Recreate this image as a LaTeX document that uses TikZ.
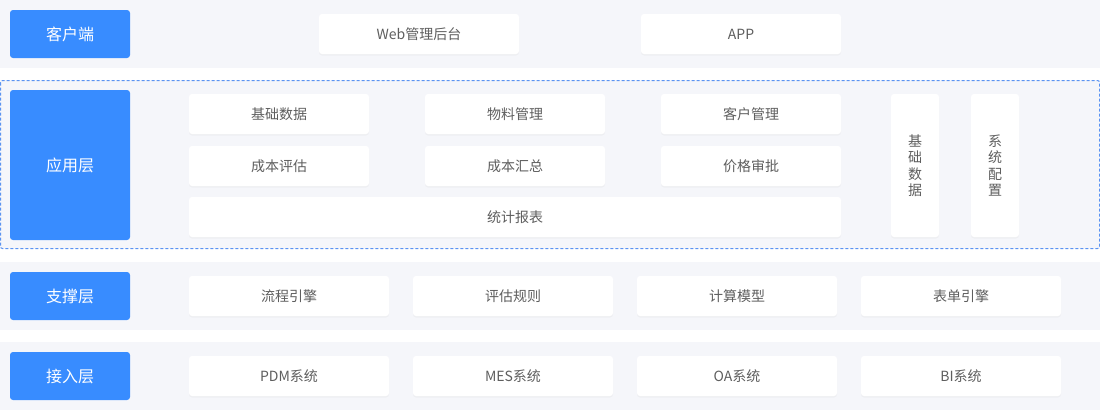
\documentclass[tikz,border=0pt]{standalone}
\usepackage{fontspec}
\setmainfont{Noto Sans CJK SC}
\usepackage{xcolor}
\usetikzlibrary{shadows}
\definecolor{layerblue}{HTML}{388CFF}
\definecolor{bandgray}{HTML}{F5F6FA}
\definecolor{itemtext}{HTML}{5E5E5E}
\definecolor{framblue}{HTML}{5A93F2}

\begin{document}
\begin{tikzpicture}%
  [x=1pt,y=-1pt]
  \tikzstyle{layer node}=[rectangle,fill=layerblue,rounded corners=3pt,inner sep=0,
    minimum width=120pt,text=white,font=\fontsize{16}{18}\selectfont]
  \tikzstyle{item node}=[rectangle,fill=white,rounded corners=3pt,inner sep=0,
    minimum height=40pt,text=itemtext,font=\fontsize{14}{16.5}\selectfont,
    drop shadow={opacity=0.06,shadow xshift=0pt,shadow yshift=-1.5pt}]
  \tikzstyle{tall node}=[item node,minimum width=48pt,minimum height=143pt,align=center]
  % background and bands
  \fill[white] (0,0) rectangle (1100,410);
  \fill[bandgray] (0,0) rectangle (1100,68);
  \fill[bandgray] (0,80) rectangle (1100,249);
  \draw[framblue,line width=1pt,dash pattern=on 3pt off 2pt,rounded corners=2pt]
    (0.5,80.5) rectangle (1099.5,248.5);
  \fill[bandgray] (0,262) rectangle (1100,330);
  \fill[bandgray] (0,342) rectangle (1100,410);
  % client
  \node(client)[layer node,minimum height=48pt] at (70,34) {客户端};
  \node(web)[item node,minimum width=200pt] at (419,34) {Web管理后台};
  \node(app)[item node,minimum width=200pt] at (741,34) {APP};
  % application
  \node(apply)[layer node,minimum height=150pt] at (70,165) {应用层};
  \node(basedata)[item node,minimum width=180pt] at (279,114) {基础数据};
  \node(material)[item node,minimum width=180pt] at (515,114) {物料管理};
  \node(customer)[item node,minimum width=180pt] at (751,114) {客户管理};
  \node(costeval)[item node,minimum width=180pt] at (279,166) {成本评估};
  \node(costsum)[item node,minimum width=180pt] at (515,166) {成本汇总};
  \node(priceok)[item node,minimum width=180pt] at (751,166) {价格审批};
  \node(report)[item node,minimum width=652pt] at (515,217) {统计报表};
  \node(basecol)[tall node] at (915,165.5) {基\\础\\数\\据};
  \node(syscol)[tall node] at (995,165.5) {系\\统\\配\\置};
  % support
  \node(support)[layer node,minimum height=48pt] at (70,296) {支撑层};
  \node(flow)[item node,minimum width=200pt] at (289,296) {流程引擎};
  \node(rule)[item node,minimum width=200pt] at (513,296) {评估规则};
  \node(model)[item node,minimum width=200pt] at (737,296) {计算模型};
  \node(form)[item node,minimum width=200pt] at (961,296) {表单引擎};
  % access
  \node(access)[layer node,minimum height=48pt] at (70,376) {接入层};
  \node(pdm)[item node,minimum width=200pt] at (289,376) {PDM系统};
  \node(mes)[item node,minimum width=200pt] at (513,376) {MES系统};
  \node(oa)[item node,minimum width=200pt] at (737,376) {OA系统};
  \node(bi)[item node,minimum width=200pt] at (961,376) {BI系统};
\end{tikzpicture}
\end{document}
